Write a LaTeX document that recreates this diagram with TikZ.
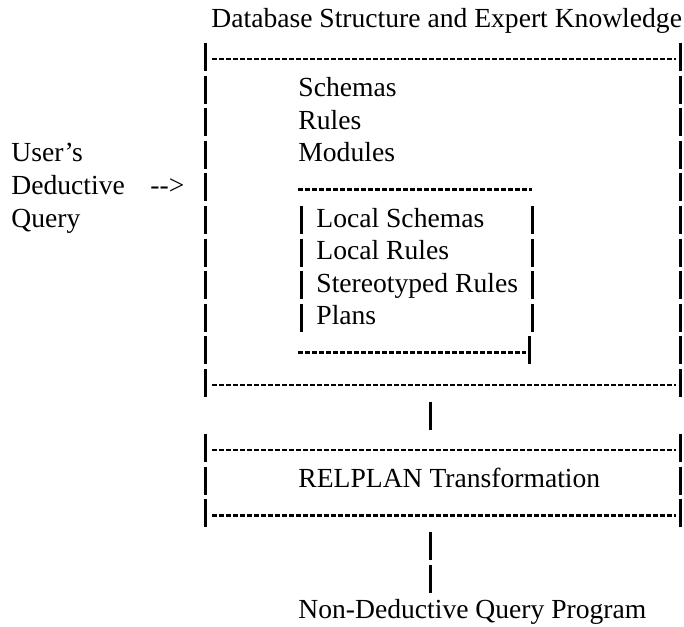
\documentclass[tikz,border=0pt]{standalone}
\usepackage{fontspec}
\setmainfont{Liberation Serif}
\usetikzlibrary{positioning}

% middle height of text row #1 (px, downwards)
\newcommand{\rowmid}[1]{59+32.6*(#1-1)}

\begin{document}
\begin{tikzpicture}[x=0.5pt, y=-0.5pt,
  font=\fontsize{13.8pt}{16pt}\selectfont,
  lbl/.style={anchor=base west, inner sep=0pt},
  dashrule/.style={line width=1.2pt, dash pattern=on 2.4pt off 1.1pt},
  barline/.style={line width=1.5pt}]
  \useasboundingbox (0,0) rectangle (684,626);
  % title
  \node[lbl] (title) at (211,28) {Database Structure and Expert Knowledge};
  % outer box
  \foreach \k in {1,...,11} {
    \draw[barline] (205,{\rowmid{\k}-16}) -- (205,{\rowmid{\k}+12});
    \draw[barline] (680,{\rowmid{\k}-16}) -- (680,{\rowmid{\k}+12});
  }
  \draw[dashrule] (212,{\rowmid{1}}) -- (676,{\rowmid{1}});
  \draw[dashrule] (212,{\rowmid{11}}) -- (676,{\rowmid{11}});
  % knowledge items
  \node[lbl] (schemas) at (298,{\rowmid{2}+5}) {Schemas};
  \node[lbl] (rules) at (298,{\rowmid{3}+5}) {Rules};
  \node[lbl] (modules) at (298,{\rowmid{4}+5}) {Modules};
  % inner box
  \draw[dashrule] (298,{\rowmid{5}}) -- (532,{\rowmid{5}});
  \foreach \k in {6,...,9} {
    \draw[barline] (301,{\rowmid{\k}-16}) -- (301,{\rowmid{\k}+12});
    \draw[barline] (532,{\rowmid{\k}-16}) -- (532,{\rowmid{\k}+12});
  }
  \draw[barline] (529,{\rowmid{10}-16}) -- (529,{\rowmid{10}+12});
  \draw[dashrule] (298,{\rowmid{10}}) -- (526,{\rowmid{10}});
  \node[lbl] (locschemas) at (316,{\rowmid{6}+5}) {Local Schemas};
  \node[lbl] (locrules) at (316,{\rowmid{7}+5}) {Local Rules};
  \node[lbl] (sterules) at (316,{\rowmid{8}+5}) {Stereotyped Rules};
  \node[lbl] (plans) at (316,{\rowmid{9}+5}) {Plans};
  % user query
  \node[lbl] (users) at (11,{\rowmid{4}+5}) {User's};
  \node[lbl] (deductive) at (11,{\rowmid{5}+5}) {Deductive};
  \node[lbl] (query) at (11,{\rowmid{6}+5}) {Query};
  \node[lbl] (arrowtxt) at (150,{\rowmid{5}+5}) {-{}-{}>};
  % link to RELPLAN
  \coordinate (kbbot) at (430,{\rowmid{12}-16});
  \coordinate (rptop) at (430,{\rowmid{12}+12});
  \draw[barline] (kbbot) -- (rptop);
  % RELPLAN box
  \foreach \k in {13,...,15} {
    \draw[barline] (205,{\rowmid{\k}-16}) -- (205,{\rowmid{\k}+12});
    \draw[barline] (680,{\rowmid{\k}-16}) -- (680,{\rowmid{\k}+12});
  }
  \draw[dashrule] (212,{\rowmid{13}}) -- (676,{\rowmid{13}});
  \draw[dashrule] (212,{\rowmid{15}}) -- (676,{\rowmid{15}});
  \node[lbl] (relplan) at (298,{\rowmid{14}+5}) {RELPLAN Transformation};
  % output
  \coordinate (rpbot) at (430,{\rowmid{16}-16});
  \coordinate (outtop) at (430,{\rowmid{17}+12});
  \draw[barline, dash pattern=on 14pt off 2.3pt] (rpbot) -- (outtop);
  \node[lbl] (output) at (298,{\rowmid{18}+5}) {Non-Deductive Query Program};
\end{tikzpicture}
\end{document}
